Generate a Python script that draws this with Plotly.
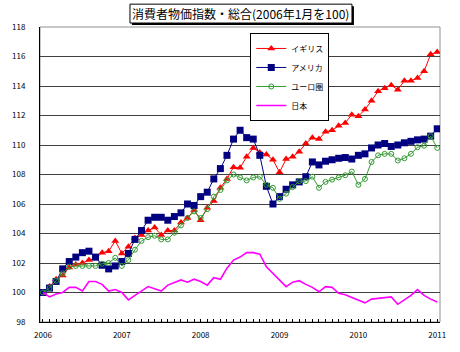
import plotly.graph_objects as go

months = list(range(61))
year_ticks = [0, 12, 24, 36, 48, 60]
year_labels = ["2006", "2007", "2008", "2009", "2010", "2011"]
y_ticks = [98, 100, 102, 104, 106, 108, 110, 112, 114, 116, 118]

uk = [100.0, 100.4, 100.9, 101.15, 101.7, 101.9, 102.0, 102.2, 102.3, 102.7,
      102.8, 103.5, 102.65, 103.1, 103.7, 103.9, 104.2, 104.4, 103.9, 104.2,
      104.2, 104.75, 105.05, 105.6, 104.9, 105.75, 106.2, 107.1, 107.7, 108.5,
      108.45, 109.2, 109.8, 109.5, 109.35, 109.0, 108.15, 109.05, 109.2, 109.55,
      110.1, 110.5, 110.4, 110.9, 111.0, 111.3, 111.5, 112.05, 111.95, 112.4,
      113.0, 113.65, 113.85, 114.05, 113.75, 114.35, 114.35, 114.55, 115.0, 116.15,
      116.3]
us = [100.0, 100.3, 100.75, 101.6, 102.1, 102.4, 102.7, 102.8, 102.4, 101.85,
      101.6, 101.8, 102.1, 102.65, 103.6, 104.2, 104.9, 105.1, 105.1, 104.9,
      105.15, 105.4, 106.0, 105.9, 106.5, 106.8, 107.7, 108.4, 109.3, 110.4,
      111.0, 110.5, 110.4, 109.3, 107.2, 106.0, 106.5, 107.0, 107.3, 107.5,
      107.85, 108.85, 108.65, 108.9, 109.0, 109.1, 109.15, 109.05, 109.3, 109.4,
      109.8, 110.0, 110.1, 109.9, 110.0, 110.15, 110.25, 110.35, 110.4, 110.6,
      111.1]
euro = [100.0, 100.3, 100.8, 101.3, 101.75, 101.8, 101.8, 101.8, 101.8, 101.95,
        102.0, 102.35, 101.8, 102.2, 102.9, 103.5, 103.75, 103.85, 103.6, 103.6,
        104.05, 104.55, 105.05, 105.5, 105.05, 105.65, 106.5, 106.95, 107.6, 108.0,
        107.8, 107.6, 107.8, 107.85, 107.3, 107.1, 106.35, 106.7, 107.15, 107.55,
        107.55, 107.85, 107.1, 107.5, 107.65, 107.8, 107.95, 108.2, 107.3, 107.7,
        108.85, 109.3, 109.4, 109.4, 108.95, 109.1, 109.4, 109.85, 109.95, 110.6,
        109.8]
japan = [100.0, 99.7, 99.9, 100.0, 100.35, 100.35, 100.1, 100.75, 100.75, 100.55,
         100.1, 100.2, 100.0, 99.5, 99.8, 100.1, 100.4, 100.25, 100.1, 100.5,
         100.65, 100.85, 100.7, 100.9, 100.75, 100.5, 101.0, 100.9, 101.65, 102.2,
         102.4, 102.7, 102.7, 102.6, 101.75, 101.3, 100.8, 100.4, 100.7, 100.8,
         100.55, 100.35, 100.05, 100.4, 100.35, 99.95, 99.85, 99.65, 99.45, 99.3,
         99.55, 99.6, 99.65, 99.7, 99.2, 99.5, 99.8, 100.2, 99.8, 99.55,
         99.35]

names = ["イギリス", "アメリカ", "ユーロ圏", "日本"]
title_text = "消費者物価指数・総合(2006年1月を100)"

FONT = "Noto Sans CJK JP"

fig = go.Figure()
fig.add_trace(go.Scatter(x=months, y=uk, name=names[0], mode="lines+markers",
                         line=dict(color="#FF0000", width=1),
                         marker=dict(symbol="triangle-up", size=7, color="#FF0000")))
fig.add_trace(go.Scatter(x=months, y=us, name=names[1], mode="lines+markers",
                         line=dict(color="#000080", width=1),
                         marker=dict(symbol="square", size=7, color="#000080")))
fig.add_trace(go.Scatter(x=months, y=euro, name=names[2], mode="lines+markers",
                         line=dict(color="#339933", width=1),
                         marker=dict(symbol="circle-open", size=5, color="#339933",
                                     line=dict(width=1))))
fig.add_trace(go.Scatter(x=months, y=japan, name=names[3], mode="lines",
                         line=dict(color="#FF00FF", width=1.6)))

L, R, T, B = 31, 440, 27, 324
W, H = 460, 352
pw, ph = R - L, B - T


def px(x):
    return (x - L) / pw


def py(y):
    return (B - y) / ph


shapes = [
    dict(type="rect", xref="paper", yref="paper", x0=0, x1=1, y0=0, y1=1,
         line=dict(color="#909090", width=1), layer="below"),
    dict(type="rect", xref="paper", yref="paper", x0=px(125), x1=px(352),
         y0=py(25), y1=py(6), fillcolor="black", line=dict(width=0)),
    dict(type="rect", xref="paper", yref="paper", x0=px(123), x1=px(350),
         y0=py(23), y1=py(4), fillcolor="white", line=dict(color="black", width=1)),
]

fig.update_layout(
    width=W, height=H,
    margin=dict(l=L, r=W - R, t=T, b=H - B),
    paper_bgcolor="white", plot_bgcolor="white",
    font=dict(family=FONT, size=9, color="black"),
    showlegend=True,
    legend=dict(x=px(246), y=py(33), xanchor="left", yanchor="top",
                bgcolor="white", bordercolor="black", borderwidth=1,
                font=dict(size=8, family=FONT), tracegroupgap=0,
                itemwidth=30),
    shapes=shapes,
    annotations=[dict(text=title_text, xref="paper", yref="paper",
                      x=px(236.5), y=py(13.5), xanchor="center", yanchor="middle",
                      showarrow=False,
                      font=dict(size=12, family=FONT, color="black"))],
    xaxis=dict(range=[-0.45, 60.42], tickmode="array", tickvals=year_ticks,
               ticktext=year_labels, showgrid=False, zeroline=False,
               showline=True, linecolor="black", linewidth=1,
               ticks="inside", ticklen=3, tickcolor="black",
               ticklabelstandoff=5,
               tickfont=dict(size=8, family=FONT),
               minor=dict(tickmode="linear", tick0=0, dtick=1, ticks="inside",
                          ticklen=3, tickcolor="black", showgrid=False)),
    yaxis=dict(range=[98, 118], tickmode="array", tickvals=y_ticks,
               showgrid=True, gridcolor="#404040", gridwidth=1, zeroline=False,
               showline=True, linecolor="black", linewidth=1,
               ticks="", ticklabelstandoff=12,
               tickfont=dict(size=8, family=FONT)),
)

fig.write_html("out.html")
